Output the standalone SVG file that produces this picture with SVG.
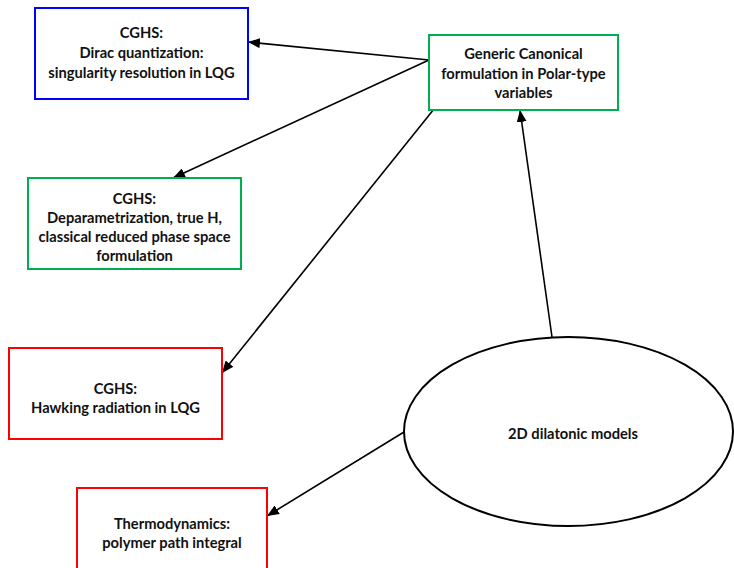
<svg xmlns="http://www.w3.org/2000/svg" width="734" height="568" viewBox="0 0 734 568">
<defs>
<marker id="ah" markerWidth="12" markerHeight="10" refX="12" refY="5" orient="auto" markerUnits="userSpaceOnUse">
<path d="M0,0 L12,5 L0,10 z" fill="#000"/>
</marker>
<style>
.box{fill:#fff;stroke-width:2}
.blue{stroke:#0000ff}
.green{stroke:#00b050}
.red{stroke:#ff0000}
.t{font-family:Lato,"Liberation Sans",sans-serif;font-weight:bold;font-size:14.7px;fill:#111;text-anchor:middle;dominant-baseline:central}
.c{stroke:#000;stroke-width:1.6;fill:none;marker-end:url(#ah)}
</style>
</defs>
<rect width="734" height="568" fill="#fff"/>
<g id="connectors">
<line class="c" x1="429" y1="60" x2="248" y2="42"/>
<line class="c" x1="429" y1="60" x2="173" y2="178"/>
<line class="c" x1="434" y1="109" x2="222" y2="373"/>
<line class="c" x1="552" y1="337" x2="520" y2="110"/>
<line class="c" x1="404" y1="432" x2="267" y2="516"/>
</g>
<g id="n1">
<rect class="box blue" x="35" y="8" width="213" height="91"/>
<text class="t" x="141.5" y="32">CGHS:</text>
<text class="t" x="141.5" y="52">Dirac quantization:</text>
<text class="t" x="141.5" y="72">singularity resolution in LQG</text>
</g>
<g id="n2">
<rect class="box green" x="429" y="35" width="189" height="75"/>
<text class="t" x="523.5" y="53">Generic Canonical</text>
<text class="t" x="523.5" y="73">formulation in Polar-type</text>
<text class="t" x="523.5" y="92">variables</text>
</g>
<g id="n3">
<rect class="box green" x="28" y="178" width="213" height="91"/>
<text class="t" x="134.5" y="198">CGHS:</text>
<text class="t" x="134.5" y="217">Deparametrization, true H,</text>
<text class="t" x="134.5" y="236">classical reduced phase space</text>
<text class="t" x="134.5" y="255">formulation</text>
</g>
<g id="n4">
<rect class="box red" x="9" y="348" width="213" height="91"/>
<text class="t" x="115.5" y="388">CGHS:</text>
<text class="t" x="115.5" y="407">Hawking radiation in LQG</text>
</g>
<g id="n5">
<rect class="box red" x="77" y="488" width="190" height="91"/>
<text class="t" x="172" y="523">Thermodynamics:</text>
<text class="t" x="172" y="542">polymer path integral</text>
</g>
<g id="n6">
<ellipse cx="568.5" cy="431.5" rx="164.5" ry="94.5" fill="#fff" stroke="#000" stroke-width="2"/>
<text class="t" x="573" y="433">2D dilatonic models</text>
</g>
</svg>
